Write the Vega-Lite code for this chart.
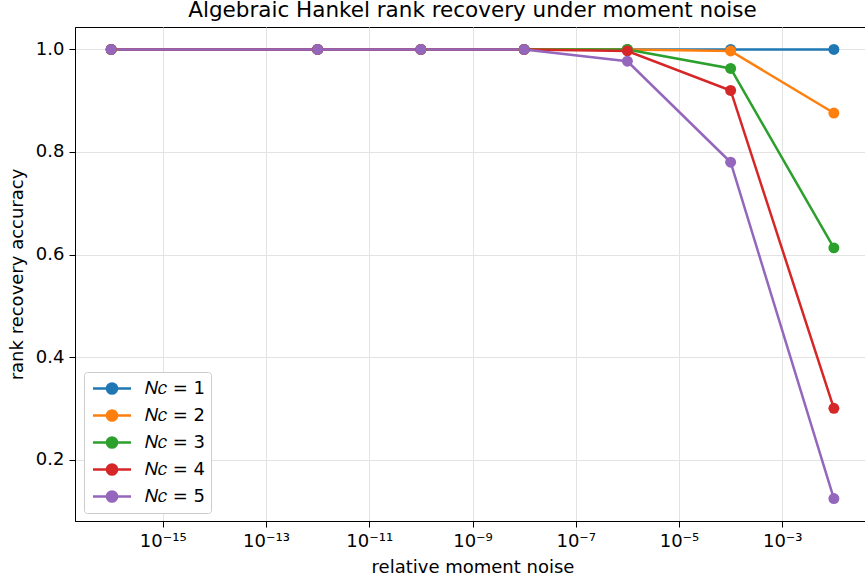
{
  "$schema": "https://vega.github.io/schema/vega-lite/v6.json",
  "width": 795,
  "height": 494,
  "autosize": {"type": "none"},
  "padding": {"left": 75, "top": 27, "right": 0, "bottom": 60},
  "background": "white",
  "config": {
    "font": "DejaVu Sans",
    "view": {"stroke": "black", "strokeWidth": 1}
  },
  "title": {
    "text": "Algebraic Hankel rank recovery under moment noise",
    "fontSize": 21.5,
    "fontWeight": "normal",
    "font": "DejaVu Sans",
    "color": "black",
    "anchor": "middle",
    "offset": 6
  },
  "data": {
    "values": [
      {"noise": 1e-16, "acc": 1.0, "series": "𝑁𝑐 = 1"},
      {"noise": 1e-12, "acc": 1.0, "series": "𝑁𝑐 = 1"},
      {"noise": 1e-10, "acc": 1.0, "series": "𝑁𝑐 = 1"},
      {"noise": 1e-8, "acc": 1.0, "series": "𝑁𝑐 = 1"},
      {"noise": 1e-6, "acc": 1.0, "series": "𝑁𝑐 = 1"},
      {"noise": 1e-4, "acc": 1.0, "series": "𝑁𝑐 = 1"},
      {"noise": 1e-2, "acc": 1.0, "series": "𝑁𝑐 = 1"},
      {"noise": 1e-16, "acc": 1.0, "series": "𝑁𝑐 = 2"},
      {"noise": 1e-12, "acc": 1.0, "series": "𝑁𝑐 = 2"},
      {"noise": 1e-10, "acc": 1.0, "series": "𝑁𝑐 = 2"},
      {"noise": 1e-8, "acc": 1.0, "series": "𝑁𝑐 = 2"},
      {"noise": 1e-6, "acc": 1.0, "series": "𝑁𝑐 = 2"},
      {"noise": 1e-4, "acc": 0.997, "series": "𝑁𝑐 = 2"},
      {"noise": 1e-2, "acc": 0.876, "series": "𝑁𝑐 = 2"},
      {"noise": 1e-16, "acc": 1.0, "series": "𝑁𝑐 = 3"},
      {"noise": 1e-12, "acc": 1.0, "series": "𝑁𝑐 = 3"},
      {"noise": 1e-10, "acc": 1.0, "series": "𝑁𝑐 = 3"},
      {"noise": 1e-8, "acc": 1.0, "series": "𝑁𝑐 = 3"},
      {"noise": 1e-6, "acc": 1.0, "series": "𝑁𝑐 = 3"},
      {"noise": 1e-4, "acc": 0.963, "series": "𝑁𝑐 = 3"},
      {"noise": 1e-2, "acc": 0.613, "series": "𝑁𝑐 = 3"},
      {"noise": 1e-16, "acc": 1.0, "series": "𝑁𝑐 = 4"},
      {"noise": 1e-12, "acc": 1.0, "series": "𝑁𝑐 = 4"},
      {"noise": 1e-10, "acc": 1.0, "series": "𝑁𝑐 = 4"},
      {"noise": 1e-8, "acc": 1.0, "series": "𝑁𝑐 = 4"},
      {"noise": 1e-6, "acc": 0.997, "series": "𝑁𝑐 = 4"},
      {"noise": 1e-4, "acc": 0.92, "series": "𝑁𝑐 = 4"},
      {"noise": 1e-2, "acc": 0.3, "series": "𝑁𝑐 = 4"},
      {"noise": 1e-16, "acc": 1.0, "series": "𝑁𝑐 = 5"},
      {"noise": 1e-12, "acc": 1.0, "series": "𝑁𝑐 = 5"},
      {"noise": 1e-10, "acc": 1.0, "series": "𝑁𝑐 = 5"},
      {"noise": 1e-8, "acc": 1.0, "series": "𝑁𝑐 = 5"},
      {"noise": 1e-6, "acc": 0.977, "series": "𝑁𝑐 = 5"},
      {"noise": 1e-4, "acc": 0.78, "series": "𝑁𝑐 = 5"},
      {"noise": 1e-2, "acc": 0.124, "series": "𝑁𝑐 = 5"}
    ]
  },
  "encoding": {
    "x": {
      "field": "noise",
      "type": "quantitative",
      "scale": {"type": "log", "domain": [1.995e-17, 0.0501], "nice": false},
      "axis": {
        "title": "relative moment noise",
        "titleFontSize": 18,
        "titleFontWeight": "normal",
        "titleColor": "black",
        "titlePadding": 8,
        "values": [1e-15, 1e-13, 1e-11, 1e-9, 1e-7, 1e-5, 1e-3],
        "labelExpr": "'10' + replace(replace(replace(replace(replace(replace('' + round(log(datum.value)/LN10), regexp('-','g'), '⁻'), regexp('1','g'), '¹'), regexp('3','g'), '³'), regexp('5','g'), '⁵'), regexp('7','g'), '⁷'), regexp('9','g'), '⁹')",
        "labelFontSize": 18,
        "labelColor": "black",
        "labelPadding": 5,
        "labelOverlap": false,
        "tickSize": 6,
        "tickColor": "black",
        "domainColor": "black",
        "gridColor": "#e3e3e3",
        "grid": true
      }
    },
    "y": {
      "field": "acc",
      "type": "quantitative",
      "scale": {"domain": [0.0802, 1.0438], "nice": false, "zero": false},
      "axis": {
        "title": "rank recovery accuracy",
        "titleFontSize": 18,
        "titleFontWeight": "normal",
        "titleColor": "black",
        "titlePadding": 9,
        "values": [0.2, 0.4, 0.6, 0.8, 1.0],
        "format": ".1f",
        "labelFontSize": 18,
        "labelColor": "black",
        "labelPadding": 5,
        "tickSize": 6,
        "tickColor": "black",
        "domainColor": "black",
        "gridColor": "#e3e3e3",
        "grid": true
      }
    },
    "color": {
      "field": "series",
      "type": "nominal",
      "scale": {"range": ["#1f77b4", "#ff7f0e", "#2ca02c", "#d62728", "#9467bd"]},
      "legend": {
        "title": null,
        "orient": "none",
        "legendX": 9,
        "legendY": 345,
        "padding": 6,
        "fillColor": "white",
        "strokeColor": "#cccccc",
        "cornerRadius": 3,
        "labelFontSize": 18,
        "labelColor": "black",
        "rowPadding": 6,
        "symbolType": "M-0.833,0H3.39M1.834,0A0.556,0.556,0,1,1,0.722,0A0.556,0.556,0,1,1,1.834,0",
        "symbolSize": 324,
        "symbolStrokeWidth": 2.6,
        "labelOffset": 34
      }
    }
  },
  "layer": [
    {"mark": {"type": "line", "strokeWidth": 2.5}},
    {"mark": {"type": "point", "filled": true, "size": 120, "opacity": 1}}
  ]
}
